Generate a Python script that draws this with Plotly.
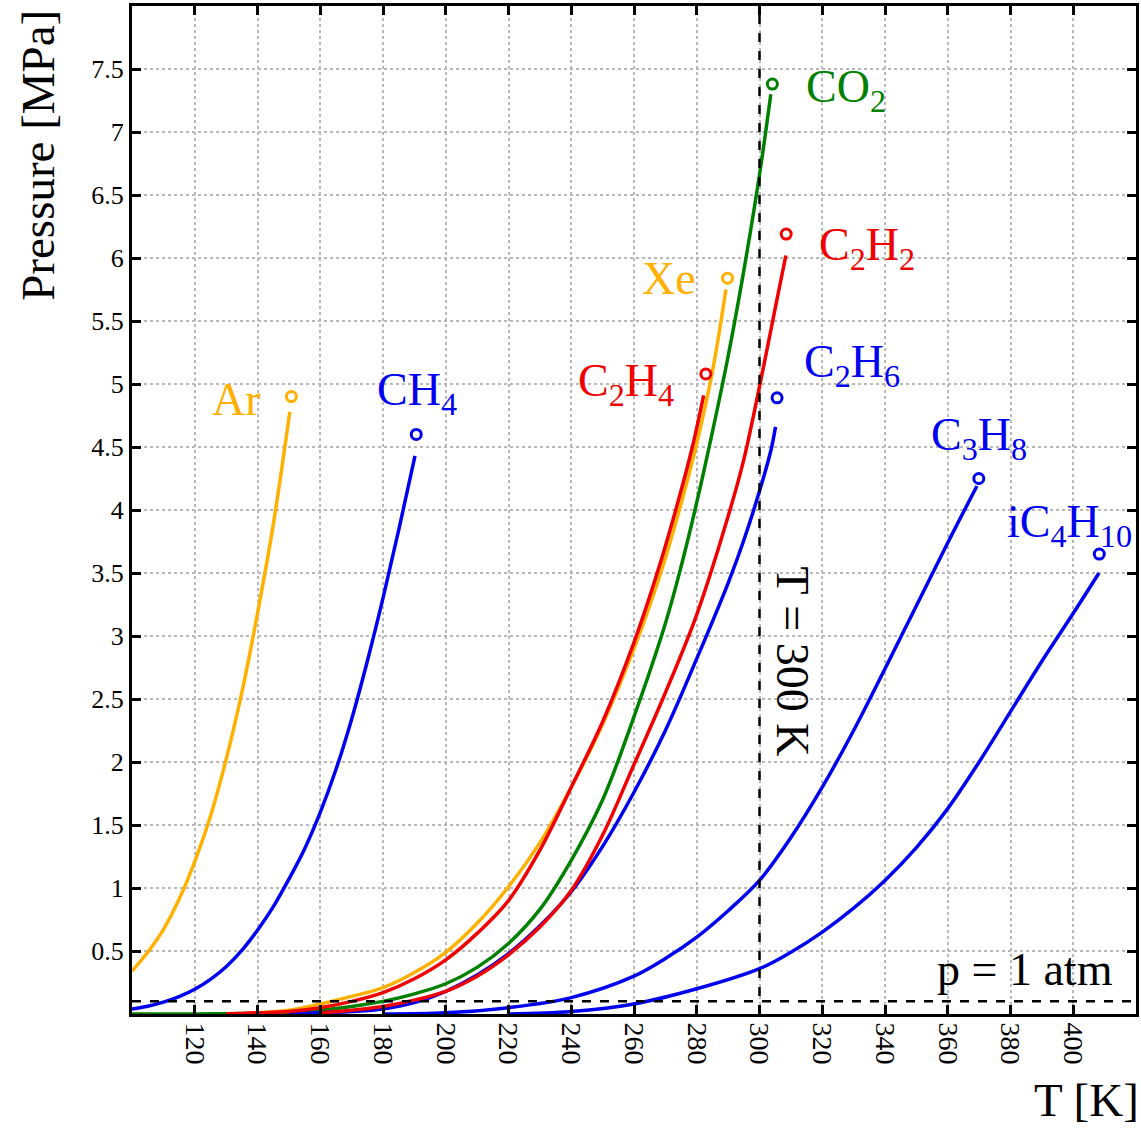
import plotly.graph_objects as go

# Vapour-pressure curves, T in K, p in MPa
AR_T = [100, 105, 110, 115, 120, 125, 130, 135, 140, 145, 150.3]
AR_P = [0.34, 0.49, 0.67, 0.91, 1.21, 1.57, 2.02, 2.55, 3.18, 3.88, 4.78]

CH4_T = [100, 105, 110, 115, 120, 125, 130, 135, 140, 145, 150, 155, 160, 165, 170, 175, 180, 185, 190.2]
CH4_P = [0.04, 0.062, 0.094, 0.138, 0.196, 0.275, 0.375, 0.505, 0.665, 0.85, 1.07, 1.31, 1.6, 1.94, 2.34, 2.8, 3.3, 3.84, 4.43]

XE_T = [140, 150, 160, 170, 180, 190, 200, 210, 220, 230, 240, 250, 260, 265, 270, 275, 280, 285, 289.3]
XE_P = [0.01, 0.03, 0.08, 0.14, 0.21, 0.33, 0.49, 0.72, 1.01, 1.36, 1.8, 2.3, 2.9, 3.24, 3.62, 4.05, 4.53, 5.1, 5.75]

C2H4_T = [130, 140, 150, 160, 170, 180, 190, 200, 210, 220, 230, 240, 250, 260, 267.4, 273.3, 278.6, 282.2]
C2H4_P = [0.0, 0.01, 0.02, 0.05, 0.1, 0.17, 0.28, 0.43, 0.64, 0.9, 1.3, 1.8, 2.32, 2.95, 3.5, 4.0, 4.5, 4.91]

CO2_T = [100, 120, 140, 150, 160, 170, 180, 190, 200, 210, 220, 230, 240, 250, 260, 270,
         275, 280, 285, 290, 295, 300, 303.6]
CO2_P = [0.0, 0.0, 0.005, 0.01, 0.03, 0.06, 0.1, 0.16, 0.24, 0.37, 0.56, 0.83, 1.22, 1.7, 2.36, 3.1,
         3.55, 4.06, 4.62, 5.22, 5.9, 6.66, 7.3]

C2H2_T = [160, 170, 180, 190, 200, 210, 220, 230, 240, 250, 260, 270, 280, 290, 295, 300, 305, 308.4]
C2H2_P = [0.01, 0.03, 0.06, 0.11, 0.18, 0.3, 0.47, 0.69, 0.98, 1.42, 1.98, 2.55, 3.17, 3.95, 4.4, 4.98, 5.6, 6.02]

C2H6_T = [150, 160, 170, 180, 190, 200, 210, 220, 230, 240, 250, 260, 270, 280, 290, 295, 300, 303.7, 305.1]
C2H6_P = [0.0, 0.01, 0.02, 0.04, 0.09, 0.18, 0.31, 0.48, 0.7, 0.97, 1.33, 1.76, 2.25, 2.82, 3.42, 3.76, 4.15, 4.48, 4.66]

C3H8_T = [180, 200, 220, 240, 260, 270, 280, 290, 300, 310, 320, 330, 340, 350, 360, 369.3]
C3H8_P = [0.0, 0.01, 0.05, 0.13, 0.3, 0.44, 0.61, 0.82, 1.06, 1.4, 1.8, 2.25, 2.74, 3.24, 3.74, 4.19]

IC4H10_T = [220, 240, 260, 280, 300, 310, 320, 330, 340, 350, 360, 370, 380, 390, 400, 408.2]
IC4H10_P = [0.0, 0.02, 0.08, 0.2, 0.36, 0.49, 0.65, 0.84, 1.06, 1.32, 1.63, 2.0, 2.4, 2.8, 3.18, 3.5]

# Critical points (T_c [K], p_c [MPa])
CRIT_T = [150.8, 190.6, 289.8, 282.9, 304.1, 308.5, 305.6, 369.9, 408.3]
CRIT_P = [4.90, 4.60, 5.84, 5.08, 7.38, 6.19, 4.89, 4.25, 3.65]

GAS_LABELS = ["Ar", "CH<sub>4</sub>", "Xe", "C<sub>2</sub>H<sub>4</sub>", "CO<sub>2</sub>",
              "C<sub>2</sub>H<sub>2</sub>", "C<sub>2</sub>H<sub>6</sub>", "C<sub>3</sub>H<sub>8</sub>",
              "iC<sub>4</sub>H<sub>10</sub>"]

X_TICKS = [120, 140, 160, 180, 200, 220, 240, 260, 280, 300, 320, 340, 360, 380, 400]
Y_TICKS = [0.5, 1, 1.5, 2, 2.5, 3, 3.5, 4, 4.5, 5, 5.5, 6, 6.5, 7, 7.5]
Y_TICK_TEXT = ["0.5", "1", "1.5", "2", "2.5", "3", "3.5", "4", "4.5", "5", "5.5", "6", "6.5", "7", "7.5"]

P_ATM = 0.101325
T_ROOM = 300

ORANGE = "#FFB000"
BLUE = "#0000F0"
RED = "#F00000"
GREEN = "#008000"

curves = [
    (AR_T, AR_P, ORANGE),
    (CH4_T, CH4_P, BLUE),
    (XE_T, XE_P, ORANGE),
    (CO2_T, CO2_P, GREEN),
    (C2H6_T, C2H6_P, BLUE),
    (C2H2_T, C2H2_P, RED),
    (C2H4_T, C2H4_P, RED),
    (C3H8_T, C3H8_P, BLUE),
    (IC4H10_T, IC4H10_P, BLUE),
]
crit_colors = [ORANGE, BLUE, ORANGE, RED, GREEN, RED, BLUE, BLUE, BLUE]
# label centres in data coordinates
label_pos = [(133.4, 4.88), (190.8, 4.93), (271.3, 5.84), (257.3, 5.0), (327.5, 7.33),
             (334.3, 6.08), (329.5, 5.15), (369.9, 4.57), (398.7, 3.88)]

FONT = "Liberation Serif, Times New Roman, serif"

fig = go.Figure()

for t, p, c in curves:
    fig.add_trace(go.Scatter(x=t, y=p, mode="lines",
                             line=dict(color=c, width=3.5, shape="spline", smoothing=1.0),
                             showlegend=False, hoverinfo="skip"))

for tc, pc, c in zip(CRIT_T, CRIT_P, crit_colors):
    fig.add_trace(go.Scatter(x=[tc], y=[pc], mode="markers",
                             marker=dict(symbol="circle-open", size=10, color=c, line=dict(width=3, color=c)),
                             showlegend=False, hoverinfo="skip"))

# reference lines: 1 atm and room temperature
fig.add_shape(type="line", x0=100, x1=420, y0=P_ATM, y1=P_ATM,
              line=dict(color="black", width=2.5, dash="dash"), layer="above")
fig.add_shape(type="line", x0=T_ROOM, x1=T_ROOM, y0=0, y1=8,
              line=dict(color="black", width=2.5, dash="dash"), layer="above")

for (lx, ly), txt, c in zip(label_pos, GAS_LABELS, crit_colors):
    fig.add_annotation(x=lx, y=ly, text=txt, showarrow=False,
                       font=dict(family=FONT, size=46, color=c), xanchor="center", yanchor="middle")

fig.add_annotation(x=384.5, y=0.35, text="p = 1 atm", showarrow=False,
                   font=dict(family=FONT, size=46, color="black"), xanchor="center", yanchor="middle")
fig.add_annotation(x=310.6, y=2.8, text="T = 300 K", showarrow=False, textangle=90,
                   font=dict(family=FONT, size=46, color="black"), xanchor="center", yanchor="middle")

# axis titles
fig.add_annotation(xref="paper", yref="paper", x=-0.093, y=0.852, text="Pressure [MPa]",
                   showarrow=False, textangle=-90, font=dict(family=FONT, size=47, color="black"),
                   xanchor="center", yanchor="middle")
fig.add_annotation(xref="paper", yref="paper", x=0.951, y=-0.085, text="T [K]",
                   showarrow=False, font=dict(family=FONT, size=47, color="black"),
                   xanchor="center", yanchor="middle")

axis_common = dict(showline=True, linecolor="black", linewidth=3, mirror="allticks",
                   ticks="inside", ticklen=9, tickwidth=2.5, tickcolor="black",
                   showgrid=True, gridcolor="#b8b8b8", gridwidth=1.5, griddash="dot",
                   zeroline=False)

fig.update_xaxes(range=[100, 420], tickvals=X_TICKS, tickangle=90,
                 tickfont=dict(family=FONT, size=28, color="black"), **axis_common)
fig.update_yaxes(range=[0, 8], tickvals=Y_TICKS, ticktext=Y_TICK_TEXT,
                 tickfont=dict(family=FONT, size=26, color="black"), **axis_common)

fig.update_layout(width=1141, height=1128, margin=dict(l=132, r=2, t=6, b=114),
                  plot_bgcolor="white", paper_bgcolor="white", font=dict(family=FONT))

fig.write_html("out.html")
